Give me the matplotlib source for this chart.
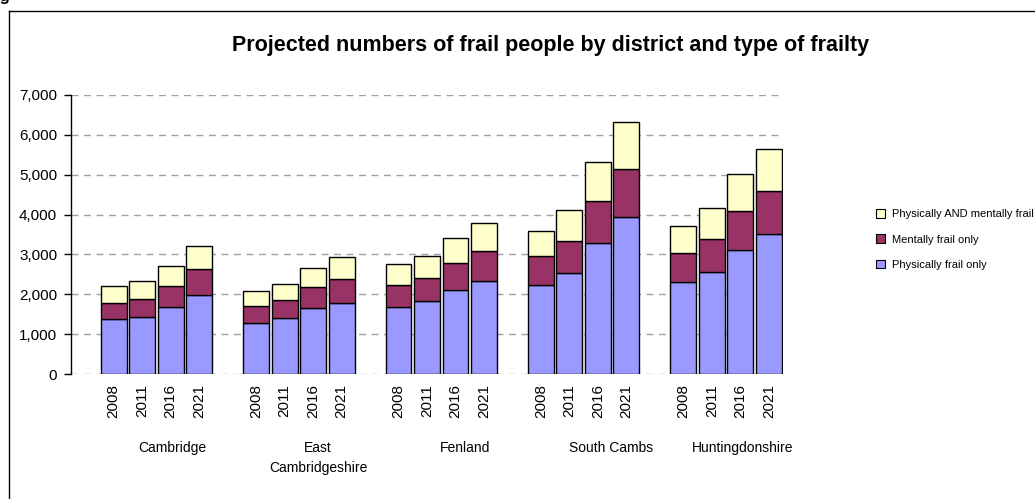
import matplotlib
matplotlib.use("Agg")
import matplotlib.pyplot as plt
from matplotlib.lines import Line2D
from matplotlib.patches import Patch
import numpy as np

plt.rcParams['font.family'] = ['Liberation Sans', 'DejaVu Sans']

districts = ["Cambridge", "East\nCambridgeshire", "Fenland", "South Cambs", "Huntingdonshire"]
years = ["2008", "2011", "2016", "2021"]
physical_only = [
    [1376, 1443, 1693, 1985],
    [1276, 1410, 1660, 1793],
    [1693, 1835, 2118, 2344],
    [2244, 2544, 3278, 3928],
    [2319, 2569, 3119, 3503],
]
mental_only = [
    [417, 450, 525, 651],
    [425, 450, 525, 584],
    [551, 575, 676, 734],
    [717, 792, 1059, 1218],
    [709, 809, 959, 1092],
]
both = [
    [425, 451, 484, 583],
    [392, 392, 484, 550],
    [525, 551, 609, 717],
    [634, 784, 976, 1159],
    [675, 775, 935, 1035],
]
series_names = ["Physically AND mentally frail", "Mentally frail only", "Physically frail only"]
colors = {"phys": "#9999FF", "ment": "#993366", "both": "#FFFFCC"}
label_shift = [0.06, 0.18, 0.35, 0.45, 0.08]

W, H = 1035, 499
fig = plt.figure(figsize=(W / 100, H / 100), dpi=100)

# outer frame (left and top edges visible)
fig.add_artist(Line2D([8.5 / W, 8.5 / W], [0, (H - 10.5) / H], color="black", lw=1.0, transform=fig.transFigure))
fig.add_artist(Line2D([8.5 / W, 1.0], [(H - 10.5) / H, (H - 10.5) / H], color="black", lw=1.0, transform=fig.transFigure))
# cropped caption above the frame
fig.text(11 / W, (H - 1.5) / H, "Fig", ha="right", va="baseline", fontsize=12, fontweight="bold")

ax_left, ax_right, ax_top, ax_bot = 71, 783, 94.7, 374.3
ax = fig.add_axes([ax_left / W, (H - ax_bot) / H, (ax_right - ax_left) / W, (ax_bot - ax_top) / H])

positions, phys, ment, bth, tick_labels = [], [], [], [], []
for g in range(len(districts)):
    for i in range(len(years)):
        positions.append(g * 5 + i)
        phys.append(physical_only[g][i])
        ment.append(mental_only[g][i])
        bth.append(both[g][i])
        tick_labels.append(years[i])
positions = np.array(positions)
phys = np.array(phys)
ment = np.array(ment)
bth = np.array(bth)

bw = 0.91
ax.bar(positions, phys, bw, color=colors["phys"], edgecolor="black", linewidth=1.0, zorder=3)
ax.bar(positions, ment, bw, bottom=phys, color=colors["ment"], edgecolor="black", linewidth=1.0, zorder=3)
ax.bar(positions, bth, bw, bottom=phys + ment, color=colors["both"], edgecolor="black", linewidth=1.0, zorder=3)

ax.set_xlim(-1.5, 23.5)
ax.set_ylim(0, 7000)
ax.set_yticks(np.arange(0, 7001, 1000))
ax.set_yticklabels([f"{v:,}" for v in range(0, 7001, 1000)], fontsize=11)
ax.yaxis.grid(True, color="#A0A0A0", linestyle=(0, (5, 4)), linewidth=1.0, zorder=0)
ax.tick_params(axis="y", length=5, width=1, pad=5, color="black")
ax.set_xticks(positions)
ax.set_xticklabels(tick_labels, rotation=90, fontsize=11)
ax.tick_params(axis="x", length=0, pad=7)
for s in ["top", "right", "bottom"]:
    ax.spines[s].set_visible(False)
ax.spines["left"].set_linewidth(1.0)

for g, name in enumerate(districts):
    ax.text(g * 5 + 2 + label_shift[g], -0.24, name, transform=ax.get_xaxis_transform(),
            ha="center", va="top", fontsize=10, linespacing=1.55)

fig.text(551 / W, (H - 45) / H, "Projected numbers of frail people by district and type of frailty",
         ha="center", va="center", fontsize=15.5, fontweight="bold")

handles = [Patch(facecolor=colors["both"], edgecolor="black", linewidth=0.8),
           Patch(facecolor=colors["ment"], edgecolor="black", linewidth=0.8),
           Patch(facecolor=colors["phys"], edgecolor="black", linewidth=0.8)]
leg = fig.legend(handles, series_names, loc="upper left", bbox_to_anchor=(876 / W, (H - 209) / H),
                 frameon=False, fontsize=8, handlelength=0.85, handleheight=0.85,
                 handletextpad=0.55, labelspacing=1.35, borderaxespad=0, borderpad=0)

fig.savefig("out.png", dpi=100)
